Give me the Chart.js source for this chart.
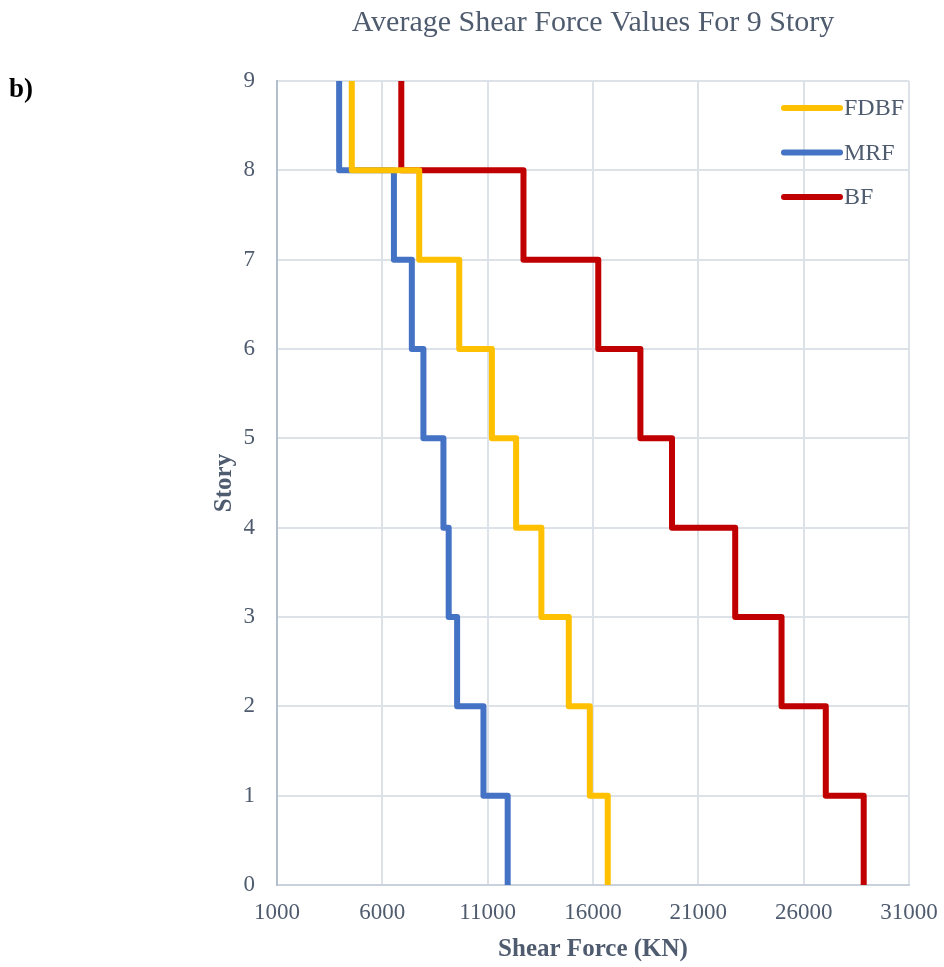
<!DOCTYPE html>
<html>
<head>
<meta charset="utf-8">
<script src="https://cdn.jsdelivr.net/npm/chart.js@4/dist/chart.umd.min.js"></script>
<style>
  html, body { margin: 0; padding: 0; background: #ffffff; }
  #wrap { width: 944px; height: 967px; position: relative; }
</style>
</head>
<body>
<div id="wrap"><canvas id="c" width="944" height="967"></canvas></div>
<script>
// Story intervals, bottom (0-1) to top (8-9)
const stories = [0, 1, 2, 3, 4, 5, 6, 7, 8, 9];
// Average shear force per story interval (KN)
const fdbf = [16700, 15850, 14850, 13550, 12350, 11200, 9650, 7750, 4550];
const mrf  = [11950, 10800, 9550, 9150, 8900, 7950, 7400, 6550, 3950];
const bf   = [28850, 27050, 24950, 22750, 19750, 18250, 16250, 12700, 6900];
const xTicks = [1000, 6000, 11000, 16000, 21000, 26000, 31000];

const chartTitle = 'Average Shear Force Values For 9 Story';
const TEXT = '#4f5b6e';
const SERIF = '"Liberation Serif", "DejaVu Serif", serif';

// Each story value holds constant between its lower and upper floor level
function stepPoints(vals) {
  const pts = [];
  vals.forEach((v, i) => {
    pts.push({ x: v, y: stories[i] });
    pts.push({ x: v, y: stories[i + 1] });
  });
  return pts;
}

const series = [
  { label: 'FDBF', values: fdbf, color: '#FFC000' },
  { label: 'MRF',  values: mrf,  color: '#4472C4' },
  { label: 'BF',   values: bf,   color: '#C00000' }
];

// Legend drawn inside the plot area, top right
const innerLegend = {
  id: 'innerLegend',
  afterDatasetsDraw(chart) {
    const ctx = chart.ctx;
    const x0 = chart.chartArea.right - 125;
    const y0 = chart.chartArea.top + 27;
    ctx.save();
    chart.data.datasets.forEach((ds, i) => {
      const y = y0 + i * 44.5;
      ctx.strokeStyle = ds.borderColor;
      ctx.lineWidth = 6;
      ctx.lineCap = 'round';
      ctx.beginPath();
      ctx.moveTo(x0, y);
      ctx.lineTo(x0 + 56, y);
      ctx.stroke();
      ctx.fillStyle = TEXT;
      ctx.font = '24px ' + SERIF;
      ctx.textAlign = 'left';
      ctx.textBaseline = 'middle';
      ctx.fillText(ds.label, x0 + 60, y + 1);
    });
    ctx.restore();
  }
};

// Title centred over the plot area, and the panel letter top-left
const headings = {
  id: 'headings',
  afterDraw(chart) {
    const ctx = chart.ctx;
    const a = chart.chartArea;
    ctx.save();
    ctx.fillStyle = TEXT;
    ctx.font = '30px ' + SERIF;
    ctx.textAlign = 'center';
    ctx.textBaseline = 'middle';
    ctx.fillText(chartTitle, (a.left + a.right) / 2, 23);
    ctx.fillStyle = '#000000';
    ctx.font = 'bold 27px ' + SERIF;
    ctx.textAlign = 'left';
    ctx.textBaseline = 'alphabetic';
    ctx.fillText('b)', 9, 97);
    ctx.restore();
  }
};

new Chart(document.getElementById('c'), {
  type: 'scatter',
  data: {
    datasets: series.map(s => ({
      label: s.label,
      data: stepPoints(s.values),
      showLine: true,
      borderColor: s.color,
      backgroundColor: s.color,
      borderWidth: 6,
      borderJoinStyle: 'round',
      borderCapStyle: 'butt',
      pointRadius: 0,
      pointHoverRadius: 0,
      tension: 0
    }))
  },
  options: {
    responsive: false,
    animation: false,
    layout: { padding: { left: 200, right: 35, top: 81, bottom: 0 } },
    plugins: {
      legend: { display: false },
      tooltip: { enabled: false },
      title: { display: false }
    },
    scales: {
      x: {
        type: 'linear',
        min: 1000,
        max: 31000,
        afterBuildTicks(scale) { scale.ticks = xTicks.map(v => ({ value: v })); },
        afterFit(scale) {
          scale.height = 82;
          scale.paddingLeft = 0;
          scale.paddingRight = 0;
        },
        ticks: {
          color: TEXT,
          font: { family: SERIF, size: 23 },
          padding: 14,
          maxRotation: 0,
          callback: v => String(v)
        },
        grid: { color: '#dde2e9', lineWidth: 2, drawTicks: false },
        border: { color: '#c9d1dc', width: 2 },
        title: {
          display: true,
          text: 'Shear Force (KN)',
          color: TEXT,
          font: { family: SERIF, size: 25, weight: 'bold' },
          padding: { top: 0, bottom: 2 }
        }
      },
      y: {
        type: 'linear',
        min: 0,
        max: 9,
        afterBuildTicks(scale) { scale.ticks = stories.map(v => ({ value: v })); },
        afterFit(scale) {
          scale.width = 77;
          scale.paddingTop = 0;
          scale.paddingBottom = 0;
        },
        ticks: { color: TEXT, font: { family: SERIF, size: 23 }, padding: 22, callback: v => String(v) },
        grid: { color: '#dde2e9', lineWidth: 2, drawTicks: false },
        border: { color: '#b3bfce', width: 2 },
        title: {
          display: true,
          text: 'Story',
          color: TEXT,
          font: { family: SERIF, size: 25, weight: 'bold' },
          padding: { top: 10, bottom: 0 }
        }
      }
    }
  },
  plugins: [innerLegend, headings]
});
</script>
</body>
</html>
